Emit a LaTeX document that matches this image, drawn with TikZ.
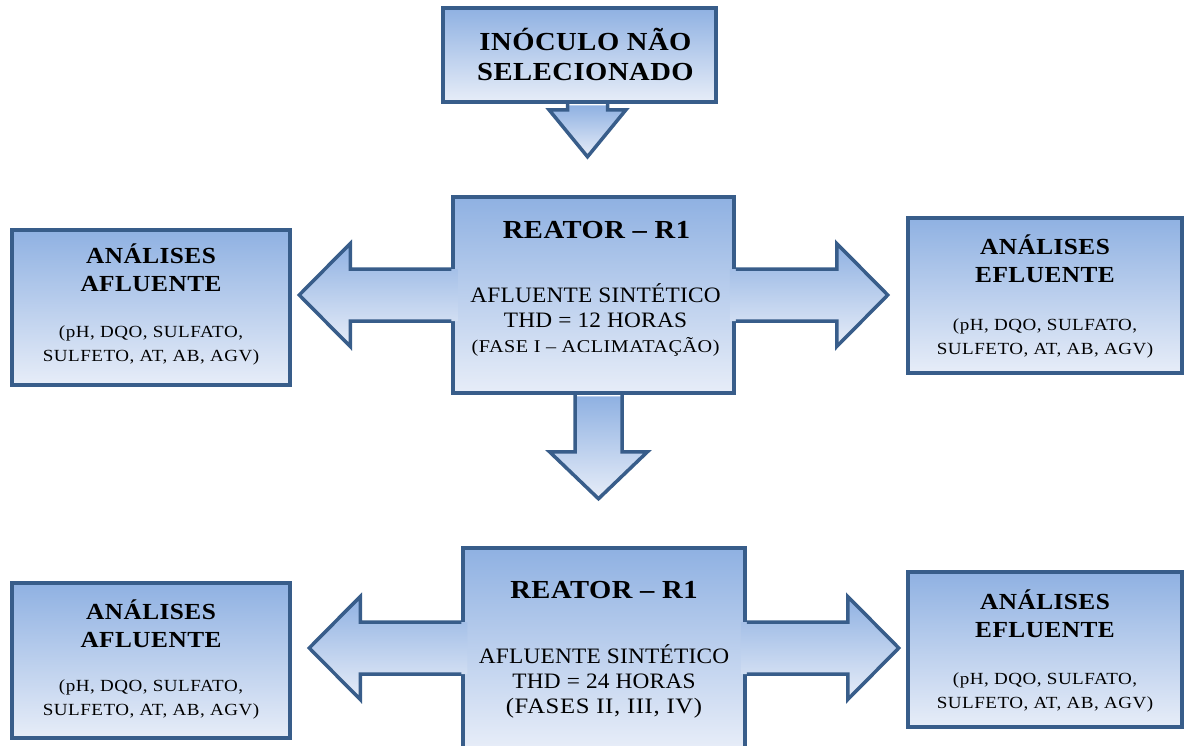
\documentclass[tikz,border=0pt]{standalone}
\usepackage{fontspec}
\setmainfont{Liberation Serif}
\newfontfamily\titlefont[FakeStretch=1.1, LetterSpace=2]{Liberation Serif}
\newfontfamily\bodyfont[FakeStretch=1.06, LetterSpace=1]{Liberation Serif}
\newfontfamily\notefont[FakeStretch=1.12, LetterSpace=3]{Liberation Serif}
\usetikzlibrary{positioning,calc,shadows}
\definecolor{boxline}{RGB}{56,93,138}
\definecolor{boxtop}{RGB}{143,177,226}
\definecolor{boxbottom}{RGB}{231,237,248}
\tikzset{
  flowbox/.style={draw=boxline, line width=3.5pt, top color=boxtop, bottom color=boxbottom, drop shadow={shadow xshift=2pt, shadow yshift=-2pt, opacity=.3}},
  arrowshade/.style={top color=boxtop, bottom color=boxbottom},
  arrowline/.style={draw=boxline, line width=3.5pt, line join=miter},
  headtext/.style={font=\titlefont\fontsize{23}{28}\selectfont\bfseries, align=center, inner sep=0pt},
  bigtext/.style={font=\titlefont\fontsize{26}{30}\selectfont\bfseries, align=center, inner sep=0pt},
  bodytext/.style={font=\bodyfont\fontsize{22}{25}\selectfont, align=center, inner sep=0pt},
  smalltext/.style={font=\notefont\fontsize{17}{24}\selectfont, align=center, inner sep=0pt}
}
% block arrow out of the side of a box: start, sign (1 right, -1 left)
\newcommand{\sidearrow}[2]{%
  \shade[arrowshade] ($(#1)+({-6*(#2)},-26)$) -- ++({107*(#2)},0) -- ++(0,-25.5) -- ++({51*(#2)},51.5) -- ++({-51*(#2)},51.5) -- ++(0,-25.5) -- ++({-107*(#2)},0) -- cycle;
  \draw[arrowline] ($(#1)+(0,-26)$) -- ++({101*(#2)},0) -- ++(0,-25.5) -- ++({51*(#2)},51.5) -- ++({-51*(#2)},51.5) -- ++(0,-25.5) -- ++({-101*(#2)},0);
}
% block arrow down from a box: start, shaft half, shaft length, head half, head length
\newcommand{\droparrow}[5]{%
  \shade[arrowshade] ($(#1)+(-#2,1.5)$) -- ++(0,{#3-1.5}) -- ++({-(#4-#2)},0) -- ++(#4,#5) -- ++(#4,-#5) -- ++({-(#4-#2)},0) -- ++(0,{-#3+1.5}) -- cycle;
  \draw[arrowline] ($(#1)+(-#2,0)$) -- ++(0,#3) -- ++({-(#4-#2)},0) -- ++(#4,#5) -- ++(#4,-#5) -- ++({-(#4-#2)},0) -- ++(0,-#3);
}

\begin{document}
\begin{tikzpicture}[x=1pt, y=-1pt]
  \clip (0,0) rectangle (1184,745);

  % boxes
  \node[flowbox, minimum width=273pt, minimum height=94pt] (inoc) at (579.5,55) {};
  \node[flowbox, minimum width=281pt, minimum height=196pt] (reat1) at (593.5,295) {};
  \node[flowbox, minimum width=278pt, minimum height=155pt] (aflu1) at (151,307.5) {};
  \node[flowbox, minimum width=274pt, minimum height=155pt] (eflu1) at (1045,295.5) {};
  \node[flowbox, minimum width=282pt, minimum height=200pt] (reat2) at (604,648) {};
  \node[flowbox, minimum width=278pt, minimum height=155pt] (aflu2) at (151,660.5) {};
  \node[flowbox, minimum width=274pt, minimum height=155pt] (eflu2) at (1045,649.5) {};

  % arrows
  \droparrow{$(inoc.south)+(8,0)$}{20}{6}{38.5}{47}
  \droparrow{$(reat1.south)+(5,0)$}{23.5}{57}{49}{47}
  \sidearrow{reat1.west}{-1}
  \sidearrow{reat1.east}{1}
  \sidearrow{reat2.west}{-1}
  \sidearrow{reat2.east}{1}

  % texts
  \node[bigtext] (inoctxt) at ($(inoc.center)+(6,-1)$) {INÓCULO NÃO\\SELECIONADO};

  \node[bigtext] (r1title) at ($(reat1.north)+(3,35)$) {REATOR – R1};
  \node[bodytext] (r1body) at ($(reat1.center)+(2,25)$) {AFLUENTE SINTÉTICO\\THD = 12 HORAS\\{\notefont\fontsize{18}{25}\selectfont (FASE I – ACLIMATAÇÃO)}};
  \node[headtext] (a1head) at ($(aflu1.center)+(0,-40)$) {ANÁLISES\\AFLUENTE};
  \node[smalltext] (a1body) at ($(aflu1.center)+(0,37.5)$) {(pH, DQO, SULFATO,\\SULFETO, AT, AB, AGV)};
  \node[headtext] (e1head) at ($(eflu1.center)+(0,-37)$) {ANÁLISES\\EFLUENTE};
  \node[smalltext] (e1body) at ($(eflu1.center)+(0,43)$) {(pH, DQO, SULFATO,\\SULFETO, AT, AB, AGV)};

  \node[bigtext] (r2title) at ($(reat2.north)+(0,44)$) {REATOR – R1};
  \node[bodytext] (r2body) at ($(reat2.center)+(0,33)$) {AFLUENTE SINTÉTICO\\THD = 24 HORAS\\{\notefont\fontsize{22}{25}\selectfont (FASES II, III, IV)}};
  \node[headtext] (a2head) at ($(aflu2.center)+(0,-37)$) {ANÁLISES\\AFLUENTE};
  \node[smalltext] (a2body) at ($(aflu2.center)+(0,39)$) {(pH, DQO, SULFATO,\\SULFETO, AT, AB, AGV)};
  \node[headtext] (e2head) at ($(eflu2.center)+(0,-36)$) {ANÁLISES\\EFLUENTE};
  \node[smalltext] (e2body) at ($(eflu2.center)+(0,42.5)$) {(pH, DQO, SULFATO,\\SULFETO, AT, AB, AGV)};
\end{tikzpicture}
\end{document}
